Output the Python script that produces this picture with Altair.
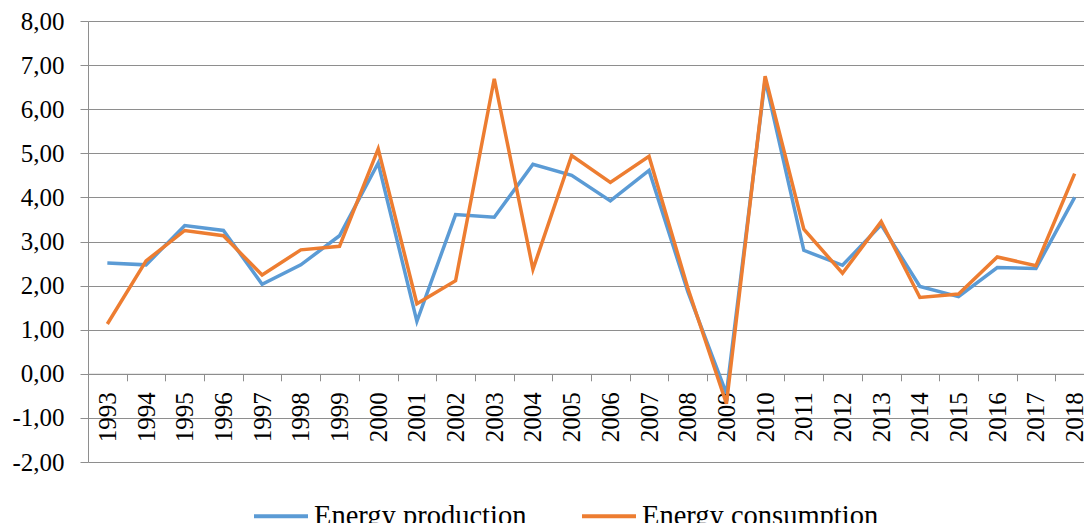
import altair as alt
import pandas as pd

years = [str(y) for y in range(1993, 2019)]
production = [2.51, 2.47, 3.36, 3.25, 2.03, 2.47, 3.13, 4.78, 1.19, 3.61, 3.55, 4.75, 4.50,
              3.92, 4.61, 1.87, -0.45, 6.67, 2.80, 2.46, 3.38, 1.98, 1.75, 2.41, 2.39, 4.00]
consumption = [1.13, 2.56, 3.25, 3.13, 2.24, 2.81, 2.89, 5.10, 1.59, 2.11, 6.69, 2.37, 4.95,
               4.34, 4.93, 1.95, -0.68, 6.75, 3.28, 2.28, 3.45, 1.73, 1.81, 2.65, 2.45, 4.54]
series_names = ["Energy production", "Energy consumption"]
series_colors = ["#5B9BD5", "#ED7D31"]
y_ticks = [-2, -1, 0, 1, 2, 3, 4, 5, 6, 7, 8]

rows = []
for name, vals in zip(series_names, [production, consumption]):
    for yr, v in zip(years, vals):
        rows.append({"year": yr, "value": v, "series": name})
df = pd.DataFrame(rows)

W, H = 1006, 441
GRID = "#8E8E8E"
FONT = "Liberation Serif"

chart = alt.Chart(df).mark_line(strokeWidth=3.5).encode(
    x=alt.X("year:N", sort=years, title=None,
            scale=alt.Scale(paddingInner=0, paddingOuter=0),
            axis=alt.Axis(labelAngle=-90, tickBand="extent", grid=False,
                          offset=-H * 2 / 10, domainColor=GRID, tickColor=GRID,
                          tickSize=7, labelPadding=11, labelFont=FONT,
                          labelFontSize=25, labelColor="black")),
    y=alt.Y("value:Q", title=None,
            scale=alt.Scale(domain=[-2, 8], nice=False, zero=False),
            axis=alt.Axis(values=y_ticks, labelExpr="datum.value + ',00'",
                          grid=True, gridColor=GRID, domainColor=GRID, tickColor=GRID,
                          tickSize=8, labelPadding=16, labelFont=FONT,
                          labelFontSize=25, labelColor="black")),
    color=alt.Color("series:N", title=None,
                    scale=alt.Scale(domain=series_names, range=series_colors),
                    legend=alt.Legend(orient="none", legendX=164, legendY=466,
                                      direction="horizontal", symbolType="stroke",
                                      symbolSize=2916, symbolStrokeWidth=4,
                                      labelFont=FONT, labelFontSize=28.5, labelLimit=600,
                                      labelColor="black", labelOffset=4,
                                      columnPadding=47, padding=0)),
).properties(
    width=W, height=H,
    autosize=alt.AutoSizeParams(type="none"),
    padding={"left": 80, "top": 13, "right": -10, "bottom": 61},
).configure_view(stroke=None)

chart.save("out.html", embed_options={"renderer": "svg", "actions": False})
